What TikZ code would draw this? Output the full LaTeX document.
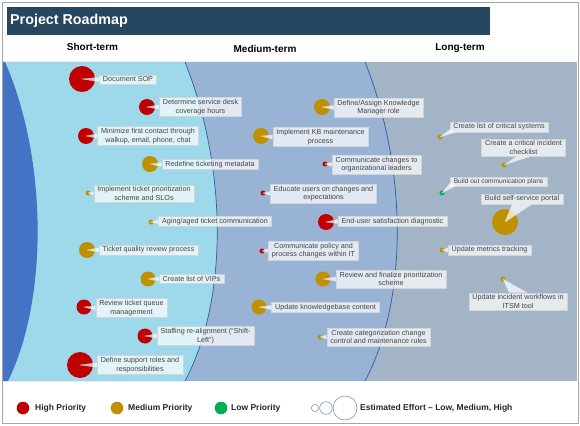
\documentclass[tikz,border=0pt]{standalone}
\usepackage{fontspec}
\setmainfont{Liberation Sans}
\usetikzlibrary{calc}
\definecolor{titlecol}{HTML}{27465F}
\definecolor{longcol}{HTML}{A2B4C6}
\definecolor{medcol}{HTML}{98B3D4}
\definecolor{shortcol}{HTML}{9DD9EA}
\definecolor{darkcol}{HTML}{4472C4}
\definecolor{bline}{HTML}{2F5AA0}
\definecolor{hired}{HTML}{C00000}
\definecolor{medgold}{HTML}{BF9000}
\definecolor{lowgreen}{HTML}{00B050}
\definecolor{lblborder}{HTML}{D0D5DA}
\definecolor{txtgray}{HTML}{444444}
\definecolor{framegray}{HTML}{A6A6A6}
\definecolor{effortcol}{HTML}{8497B0}
\tikzset{
  bubble/.style={circle, inner sep=0pt, draw=none},
  lbl/.style={draw=lblborder, line width=0.4pt, fill=white, fill opacity=0.72, text opacity=1,
    text=txtgray, font=\fontsize{7.2}{8.6}\selectfont, align=center, inner xsep=3.5pt, inner ysep=1.8pt},
  ptrfill/.style={fill=white, fill opacity=0.72},
  ptrline/.style={draw=lblborder, line width=0.3pt},
  colhead/.style={font=\bfseries\fontsize{10}{12}\selectfont, text=black, inner sep=0pt, anchor=base},
  legtext/.style={font=\bfseries\fontsize{8.5}{10}\selectfont, text=black!85, inner sep=0pt, anchor=west},
  legdot/.style={circle, inner sep=0pt, minimum size=12.6pt, draw=none},
  effort/.style={circle, inner sep=0pt, draw=effortcol, line width=0.6pt, fill=white}
}
% pointer from west edge of label #1 to bubble #2
\newcommand{\ptrW}[2]{%
  \fill[ptrfill] ($(#1.west)+(0,-2.2)$) -- ($(#1.west)+(0,2.2)$) -- (#2.center) -- cycle;
  \draw[ptrline] ($(#1.west)+(0,-2.2)$) -- (#2.center) -- ($(#1.west)+(0,2.2)$);}
% pointer from anchor #3 of label #1 to bubble #2, base half width #4 (horizontal)
\newcommand{\ptrH}[4]{%
  \fill[ptrfill] ($(#1.#3)+(-#4,0)$) -- ($(#1.#3)+(#4,0)$) -- (#2.center) -- cycle;
  \draw[ptrline] ($(#1.#3)+(-#4,0)$) -- (#2.center) -- ($(#1.#3)+(#4,0)$);}
% pointer from lower-left corner of label #1 to bubble #2
\newcommand{\ptrC}[2]{%
  \fill[ptrfill] ($(#1.south west)+(0,-3)$) -- ($(#1.south west)+(6,0)$) -- (#2.center) -- cycle;
  \draw[ptrline] ($(#1.south west)+(0,-3)$) -- (#2.center) -- ($(#1.south west)+(6,0)$);}
\newcommand{\bub}[4]{\node[bubble, fill=#4, minimum size=#3pt] (#1) at (#2) {};}

\begin{document}
\begin{tikzpicture}[x=1pt,y=-1pt]
\useasboundingbox (0,0) rectangle (580,425);
\fill[white] (0,0) rectangle (580,425);
\draw[framegray, line width=0.8pt] (2,2) rectangle (578,423);

% title
\fill[titlecol] (7,7) rectangle (490,35);
\node[anchor=west, text=white, font=\bfseries\fontsize{14.3}{16}\selectfont, inner sep=0pt] (title) at (10,21) {Project Roadmap};

% column heads
\node[colhead] (h1) at (92.5,51) {Short-term};
\node[colhead] (h2) at (265,52.5) {Medium-term};
\node[colhead] (h3) at (460,51) {Long-term};

% regions
\fill[longcol] (3,62) rectangle (577,381);
\fill[medcol] (3,62) -- (365,62) .. controls (408,170) and (408,300) .. (365,381) -- (3,381) -- cycle;
\fill[shortcol] (3,62) -- (185,62) .. controls (228,170) and (228,300) .. (185,381) -- (3,381) -- cycle;
\fill[darkcol] (3,62) -- (5,62) .. controls (48,160) and (48,300) .. (8,381) -- (3,381) -- cycle;
\draw[bline, line width=0.7pt] (185,62) .. controls (228,170) and (228,300) .. (185,381);
\draw[bline, line width=0.7pt] (365,62) .. controls (408,170) and (408,300) .. (365,381);

% bubbles
\bub{b1}{82,79}{26}{hired}
\bub{b2}{147,107}{16}{hired}
\bub{b3}{86,136}{16}{hired}
\bub{b4}{150,164}{16}{medgold}
\bub{b5}{88,193}{5}{medgold}
\bub{b6}{151,222}{5}{medgold}
\bub{b7}{87,250}{16}{medgold}
\bub{b8}{148,279}{15}{medgold}
\bub{b9}{84,307}{15}{hired}
\bub{b10}{145,336}{15}{hired}
\bub{b11}{80,365}{26}{hired}
\bub{b12}{322,107}{16}{medgold}
\bub{b13}{261,136}{16}{medgold}
\bub{b14}{325,164}{5}{hired}
\bub{b15}{263,193}{5}{hired}
\bub{b16}{326,222}{16}{hired}
\bub{b17}{262,251}{5}{hired}
\bub{b18}{323,279}{15}{medgold}
\bub{b19}{259,307}{15}{medgold}
\bub{b20}{320,337}{5}{medgold}
\bub{b21}{440,137}{5}{medgold}
\bub{b22}{504,165}{5}{medgold}
\bub{b23}{442,193}{5}{lowgreen}
\bub{b24}{505,222}{26}{medgold}
\bub{b25}{442,250}{5}{medgold}
\bub{b26}{503,279}{5}{medgold}

% labels
\node[lbl] (l1) at (128,79.5) {Document SOP};
\node[lbl] (l2) at (200.5,107) {Determine service desk\\coverage hours};
\node[lbl] (l3) at (148,136) {Minimize first contact through\\walkup, email, phone, chat};
\node[lbl] (l4) at (210,164.5) {Redefine ticketing metadata};
\node[lbl] (l5) at (144,193.5) {Implement ticket prioritization\\scheme and SLOs};
\node[lbl] (l6) at (215,221.5) {Aging/aged ticket communication};
\node[lbl] (l7) at (148.5,250) {Ticket quality review process};
\node[lbl] (l8) at (191.5,279) {Create list of VIPs};
\node[lbl] (l9) at (131.5,308) {Review ticket queue\\management};
\node[lbl] (l10) at (205.5,336) {Staffing re-alignment (``Shift-\\Left'')};
\node[lbl] (l11) at (140,365) {Define support roles and\\responsibilities};
\node[lbl] (l12) at (378.5,107.5) {Define/Assign Knowledge\\Manager role};
\node[lbl] (l13) at (320.5,137) {Implement KB maintenance\\process};
\node[lbl] (l14) at (376.5,164.5) {Communicate changes to\\organizational leaders};
\node[lbl] (l15) at (323.5,193.5) {Educate users on changes and\\expectations};
\node[lbl] (l16) at (392.5,221.5) {End-user satisfaction diagnostic};
\node[lbl] (l17) at (313.5,250.5) {Communicate policy and\\process changes within IT};
\node[lbl] (l18) at (391,279) {Review and finalize prioritization\\scheme};
\node[lbl] (l19) at (325.5,307.5) {Update knowledgebase content};
\node[lbl] (l20) at (378.5,337) {Create categorization change\\control and maintenance rules};
\node[lbl] (l21) at (499,127) {Create list of critical systems};
\node[lbl] (l22) at (523.5,147.5) {Create a critical incident\\checklist};
\node[lbl, font=\fontsize{6.6}{8}\selectfont, inner ysep=1.2pt] (l23) at (498.5,181.5) {Build out communication plans};
\node[lbl] (l24) at (522,199) {Build self-service portal};
\node[lbl] (l25) at (489.5,250) {Update metrics tracking};
\node[lbl] (l26) at (518,301.5) {Update incident workflows in\\ITSM tool};

% pointers
\ptrW{l1}{b1} \ptrW{l2}{b2} \ptrW{l3}{b3} \ptrW{l4}{b4} \ptrW{l5}{b5}
\ptrW{l6}{b6} \ptrW{l7}{b7} \ptrW{l8}{b8} \ptrW{l9}{b9} \ptrW{l10}{b10}
\ptrW{l11}{b11} \ptrW{l12}{b12} \ptrW{l13}{b13} \ptrW{l14}{b14} \ptrW{l15}{b15}
\ptrW{l16}{b16} \ptrW{l17}{b17} \ptrW{l18}{b18} \ptrW{l19}{b19} \ptrW{l20}{b20}
\ptrC{l21}{b21}
\ptrH{l22}{b22}{south}{7}
\ptrC{l23}{b23}
\ptrH{l24}{b24}{south}{10}
\ptrW{l25}{b25}
\ptrH{l26}{b26}{north}{9}

% legend
\node[legdot, fill=hired] (g1) at (23,408) {};
\node[legtext] (gt1) at (35,408) {High Priority};
\node[legdot, fill=medgold] (g2) at (117,408) {};
\node[legtext] (gt2) at (128,408) {Medium Priority};
\node[legdot, fill=lowgreen] (g3) at (221,408) {};
\node[legtext] (gt3) at (231,408) {Low Priority};
\node[effort, minimum size=7.4pt] (e1) at (315,408) {};
\node[effort, minimum size=12.6pt] (e2) at (326,408) {};
\node[effort, minimum size=24pt] (e3) at (345,408) {};
\node[legtext] (gt4) at (360,408) {Estimated Effort -- Low, Medium, High};
\end{tikzpicture}
\end{document}
